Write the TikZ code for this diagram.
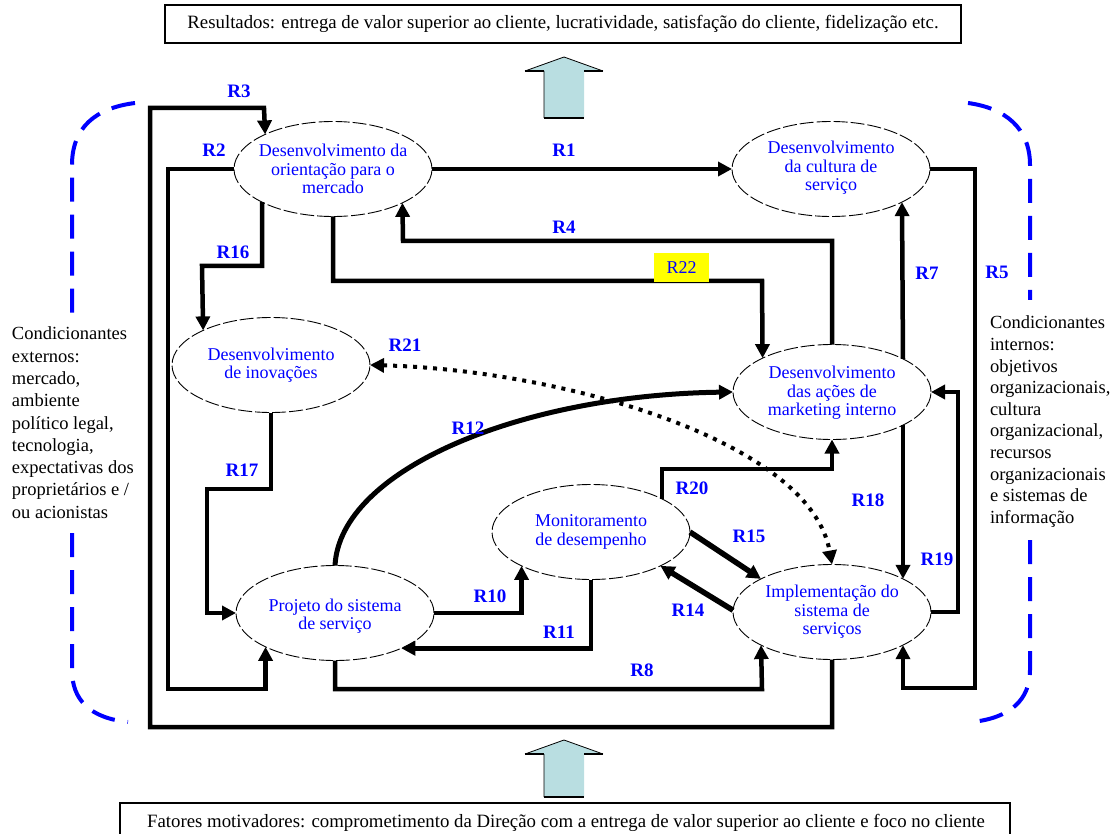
\documentclass[tikz,border=0pt]{standalone}
\usepackage{fontspec}
\setmainfont{Liberation Serif}
\usetikzlibrary{arrows.meta,shapes.geometric}

\definecolor{lblue}{RGB}{0,0,255}
\definecolor{arrowfill}{RGB}{185,222,225}
\definecolor{tagyellow}{RGB}{255,255,0}

\begin{document}
\begin{tikzpicture}[x=1pt,y=-1pt,
  every node/.style={inner sep=0pt, outer sep=0pt},
  proc/.style={ellipse, draw, line width=0.9pt, dash pattern=on 14pt off 3pt,
    minimum width=198pt, minimum height=95pt},
  ptext/.style={text=lblue, align=center, font=\fontsize{18}{18.5}\selectfont},
  link/.style={line width=4.5pt, line join=miter, -{Triangle[length=14pt,width=14pt]}},
  dotlink/.style={line width=4pt, dash pattern=on 4pt off 6pt,
    {Triangle[length=14pt,width=14pt]}-{Triangle[length=14pt,width=14pt]}},
  rlab/.style={text=lblue, font=\fontsize{19}{19}\selectfont\bfseries},
  side/.style={align=left, anchor=north west},
  bracket/.style={lblue, line width=4pt, dash pattern=on 24pt off 13pt},
  framebox/.style={draw, line width=1.3pt},
  bigarrow/.style={fill=arrowfill},
]
\useasboundingbox (0,0) rectangle (1111,834);

% --- results box and motivating factors box ---
\node[framebox, minimum width=796pt, minimum height=38pt,
  font=\fontsize{18.8}{18.8}\selectfont] (res) at (563,24)
  {Resultados: entrega de valor superior ao cliente, lucratividade, satisfação do cliente, fidelização etc.};
\node[framebox, minimum width=890pt, minimum height=60pt, anchor=north] (motbox) at (565,803) {};
\node[font=\fontsize{18.8}{18.8}\selectfont] (mot) at (566,823)
  {Fatores motivadores: comprometimento da Direção com a entrega de valor superior ao cliente e foco no cliente};

% --- block arrows ---
\fill[bigarrow] (544,118) -- (544,71) -- (525,71) -- (564,57) -- (603,71) -- (584,71) -- (584,118) -- cycle;
\draw[line width=0.8pt] (525,71) -- (564,57) -- (603,71) (544,71) -- (544,118);
\draw[line width=2.5pt] (525,71) -- (544,71) (584,71) -- (603,71) (544,118) -- (584,118);

\fill[bigarrow] (544,797) -- (544,754) -- (525,754) -- (564,740) -- (603,754) -- (584,754) -- (584,797) -- cycle;
\draw[line width=0.8pt] (525,754) -- (564,740) -- (603,754) (544,754) -- (544,797);
\draw[line width=2.5pt] (525,754) -- (544,754) (584,754) -- (603,754) (544,797) -- (584,797);

% --- external / internal conditions ---
\draw[bracket] (135,103) .. controls (95,108) and (72,128) .. (72,165) -- (72,318);
\draw[bracket] (72,533) -- (72,670) .. controls (72,700) and (90,718) .. (128,722);
\draw[bracket] (968,103) .. controls (1005,108) and (1030,128) .. (1030,165) -- (1030,300);
\draw[bracket] (1030,540) -- (1030,670) .. controls (1030,700) and (1010,718) .. (972,722);

\node[side, font=\fontsize{18.5}{22.3}\selectfont] (ext) at (12,327)
  {Condicionantes\\externos:\\mercado,\\ambiente\\político legal,\\tecnologia,\\expectativas dos\\proprietários e /\\ou acionistas};
\node[side, font=\fontsize{18.5}{21.6}\selectfont] (int) at (990,316)
  {Condicionantes\\internos:\\objetivos\\organizacionais,\\cultura\\organizacional,\\recursos\\organizacionais\\e sistemas de\\informação};

% --- processes ---
\node[proc] (e1) at (333,169) {};
\node[proc] (e2) at (831,169) {};
\node[proc] (e3) at (271,365) {};
\node[proc] (e4) at (832,392) {};
\node[proc] (e5) at (591,532) {};
\node[proc] (e6) at (335,613) {};
\node[proc] (e7) at (832,612) {};

\node[ptext] (t1) at (333,169) {Desenvolvimento da\\orientação para o\\mercado};
\node[ptext] (t2) at (831,168) {Desenvolvimento\\da cultura de\\serviço};
\node[ptext] (t3) at (271,365) {Desenvolvimento\\de inovações};
\node[ptext] (t4) at (832,393) {Desenvolvimento\\das ações de\\marketing interno};
\node[ptext] (t5) at (591,532) {Monitoramento\\de desempenho};
\node[ptext] (t6) at (335,616) {Projeto do sistema\\de serviço};
\node[ptext] (t7) at (832,612) {Implementação do\\sistema de\\serviços};

% --- relations ---
\draw[link] (e1.east) -- (e2.west);                                   % R1
\draw[link] (e1.west) -| (168,689) -| (e6.206.28);                    % R2
\draw[link] (e7.south) |- (150,727) |- (264,108) -- (e1.153.72);      % R3
\draw[link] (e4.north) |- (403,241) -- (e1.334.36);                   % R4
\draw[link] (e2.east) -| (975,688) -| (e7.335);                       % R5
\draw[link] (e4.25) -- (e2.335);                                      % R7
\draw[link] (e6.south) |- (762,689) -- (e7.205.64);                   % R8
\draw[link] (e6.east) -| (e5.206.28);                                 % R10
\draw[link] (e5.south) |- (e6.332.4);                                 % R11
\draw[link, line width=5pt] (e6.north) .. controls (340,470) and (520,395) .. (e4.west); % R12
\draw[link, line width=5.5pt] (e7.179) -- (e5.334.4);                 % R14
\draw[link, line width=5.5pt] (e5.east) -- (e7.155);                  % R15
\draw[link] (e1.205.64) |- (202,266) -- (e3.153.72);                  % R16
\draw[link] (e3.south) |- (207,489) |- (e6.west);                     % R17
\draw[link] (e4.335) -- (e7.25);                                      % R18
\draw[link] (e7.east) -| (958,392) -- (e4.east);                      % R19
\draw[link] (e5.25.64) |- (832,469) -- (e4.south);                    % R20
\draw[dotlink] (e3.east) .. controls (560,370) and (810,440) .. (e7.north); % R21
\draw[link] (e1.south) |- (762,281) -- (e4.154.36);                   % R22

% --- relation labels ---
\node[rlab] (l1) at (564,150) {R1};
\node[rlab] (l2) at (214,150) {R2};
\node[rlab] (l3) at (239,91) {R3};
\node[rlab] (l4) at (564,227) {R4};
\node[rlab] (l5) at (997,272) {R5};
\node[rlab] (l7) at (927,273) {R7};
\node[rlab] (l8) at (642,670) {R8};
\node[rlab] (l10) at (490,596) {R10};
\node[rlab] (l11) at (559,632) {R11};
\node[rlab] (l12) at (468,428) {R12};
\node[rlab] (l14) at (688,610) {R14};
\node[rlab] (l15) at (749,536) {R15};
\node[rlab] (l16) at (233,252) {R16};
\node[rlab] (l17) at (242,470) {R17};
\node[rlab] (l18) at (868,500) {R18};
\node[rlab] (l19) at (937,559) {R19};
\node[rlab] (l20) at (692,488) {R20};
\node[rlab] (l21) at (405,345) {R21};
\node[fill=tagyellow, text=lblue, minimum width=55pt, minimum height=29pt,
  font=\fontsize{18}{18}\selectfont] (l22) at (681.5,267.5) {R22};
\end{tikzpicture}
\end{document}
